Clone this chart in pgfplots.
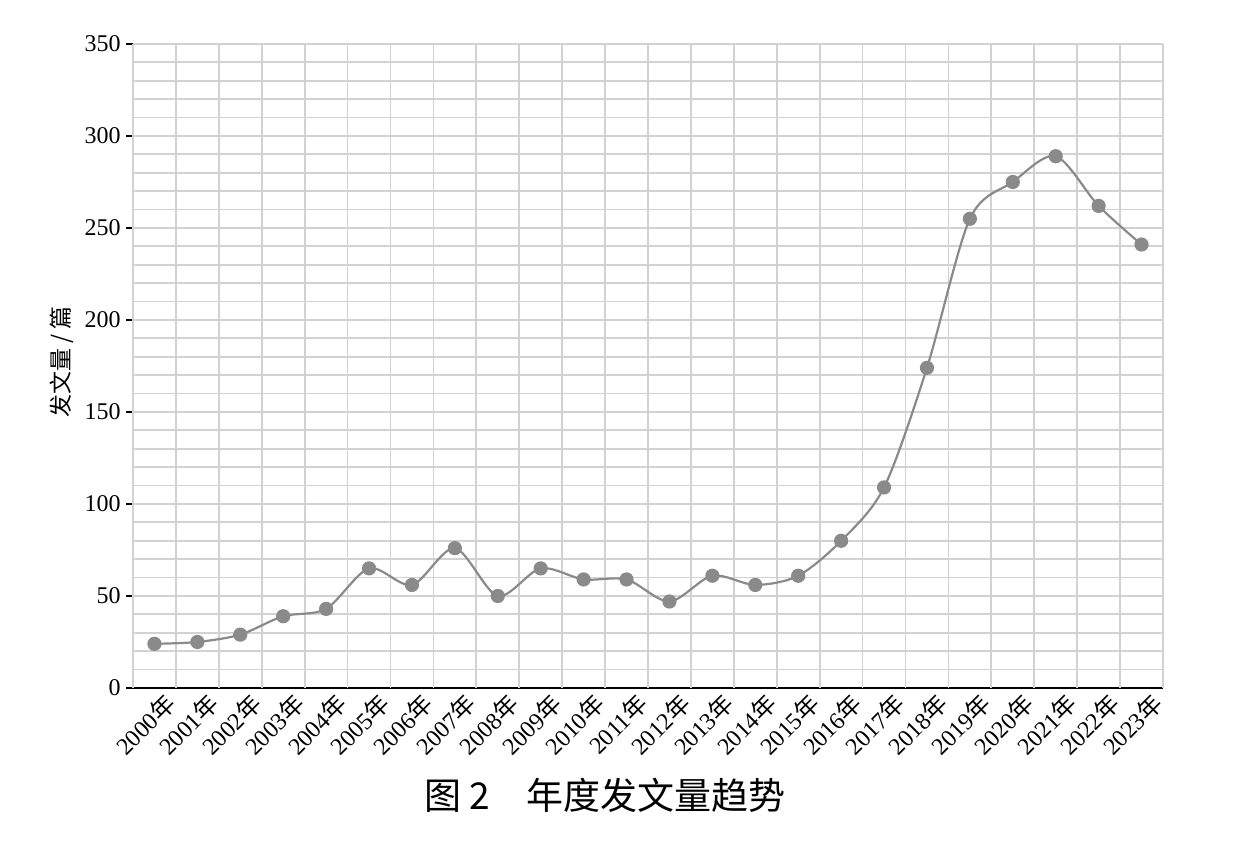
\documentclass[border=0pt]{standalone}
\usepackage{pgfplots}
\pgfplotsset{compat=1.18}
\usepackage{fontspec}
\setmainfont{Liberation Serif}
\newfontfamily\cjk{Noto Sans CJK SC}
\newcommand\Y[1]{#1{\cjk 年}}
\definecolor{gridc}{HTML}{D2D2D2}
\definecolor{linec}{HTML}{8A8A8A}
\begin{document}
\begin{tikzpicture}
\useasboundingbox (0,0) rectangle (616.5pt,422pt);
\begin{axis}[
  at={(66.5pt,78pt)}, anchor=south west,
  scale only axis, width=515pt, height=322pt,
  xmin=-0.5, xmax=23.5, ymin=0, ymax=350,
  axis x line*=bottom, axis y line*=left,
  axis line style={-, black, line width=1.2pt},
  tick align=outside, tick pos=left,
  xtick={0,...,23},
  xticklabels={\Y{2000},\Y{2001},\Y{2002},\Y{2003},\Y{2004},\Y{2005},\Y{2006},\Y{2007},\Y{2008},\Y{2009},\Y{2010},\Y{2011},\Y{2012},\Y{2013},\Y{2014},\Y{2015},\Y{2016},\Y{2017},\Y{2018},\Y{2019},\Y{2020},\Y{2021},\Y{2022},\Y{2023}},
  x tick style={draw=none},
  xticklabel style={rotate=45, anchor=north east, inner sep=0.5pt, xshift=5pt, yshift=-1pt, font=\fontsize{12}{13}\selectfont},
  extra x ticks={-0.5,0.5,...,23.5},
  extra x tick labels={},
  extra x tick style={xmajorgrids=true, major tick length=4pt, tick style={draw=black, line width=1pt}},
  ytick={0,50,...,350},
  minor y tick num=4,
  ymajorgrids=true, yminorgrids=true,
  y tick style={black, line width=1pt},
  major tick length=3.5pt,
  minor tick length=0pt,
  grid style={gridc, line width=0.9pt},
  minor grid style={gridc, line width=0.9pt},
  yticklabel style={font=\fontsize{12}{13}\selectfont, inner sep=2.5pt},
  /pgf/number format/assume math mode=true,
  clip=false,
]
\addplot[linec, line width=1.1pt, smooth, tension=0.5, mark=*, mark size=3pt, mark options={fill=linec, draw=linec}]
coordinates {
(0,24) (1,25) (2,29) (3,39) (4,43) (5,65) (6,56) (7,76) (8,50) (9,65)
(10,59) (11,59) (12,47) (13,61) (14,56) (15,61) (16,80) (17,109) (18,174)
(19,255) (20,275) (21,289) (22,262) (23,241)
};
\end{axis}
\node[rotate=90, font=\cjk\fontsize{11.5}{13}\selectfont] at (31pt,241pt) {发文量 / 篇};
\node[font=\cjk\fontsize{18.5}{20}\selectfont] at (302.5pt,24.5pt) {图 2\hspace{1em}年度发文量趋势};
\end{tikzpicture}
\end{document}
